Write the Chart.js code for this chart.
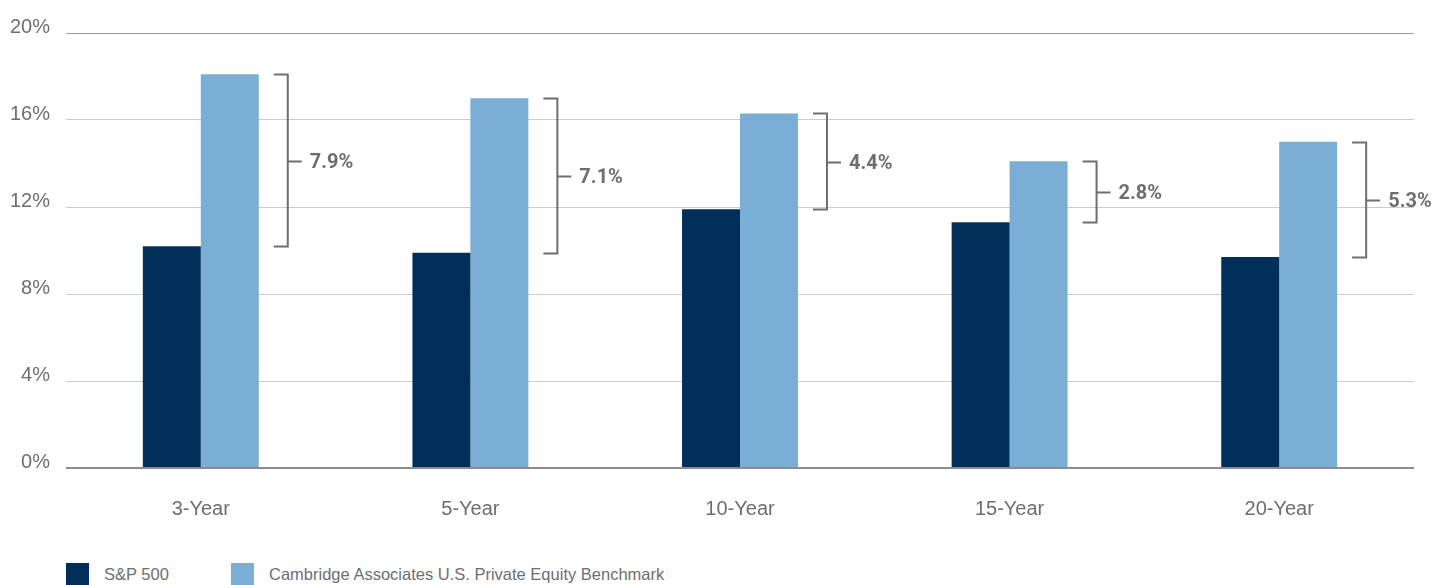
<!DOCTYPE html>
<html><head><meta charset="utf-8">
<script src="https://cdn.jsdelivr.net/npm/chart.js@4/dist/chart.umd.min.js"></script>
<style>
html,body{margin:0;padding:0;background:#fff;overflow:hidden;}
#wrap{position:relative;width:1437px;height:585px;overflow:hidden;}
#c{position:absolute;left:0;top:0;}
#legend{position:absolute;left:66px;top:563px;display:flex;font-family:"Liberation Sans",Arial,sans-serif;font-size:16.5px;color:#6d6e71;line-height:23px;}
#legend .item{display:flex;align-items:flex-start;}
#legend .box{width:23px;height:23px;margin-right:15px;}
</style></head>
<body>
<div id="wrap">
<canvas id="c" width="1437" height="550"></canvas>
<div id="legend"></div>
</div>
<script>
const categories = ["3-Year","5-Year","10-Year","15-Year","20-Year"];
const seriesNames = ["S&P 500","Cambridge Associates U.S. Private Equity Benchmark"];
const sp500 = [10.2, 9.9, 11.9, 11.3, 9.7];
const cambridge = [18.1, 17.0, 16.3, 14.1, 15.0];
const yTicks = [0, 4, 8, 12, 16, 20];
const colors = ["#00305a", "#7aaed4"];

const TXT = "#6d6e71";
const FONT = '"Liberation Sans",Arial,sans-serif';

// HTML legend
const lg = document.getElementById('legend');
seriesNames.forEach((n, i) => {
  const it = document.createElement('div'); it.className = 'item';
  const b = document.createElement('div'); b.className = 'box'; b.style.background = colors[i];
  const t = document.createElement('span'); t.textContent = n;
  it.appendChild(b); it.appendChild(t);
  if (i === 0) it.style.width = '165px';
  lg.appendChild(it);
});

const bracketPlugin = {
  id: 'brackets',
  afterDatasetsDraw(chart) {
    const ctx = chart.ctx;
    const y = chart.scales.y;
    const m1 = chart.getDatasetMeta(1).data;
    ctx.save();
    ctx.strokeStyle = TXT;
    ctx.lineWidth = 2;
    ctx.fillStyle = TXT;
    ctx.font = 'bold 20px Roboto, "Liberation Sans", sans-serif';
    ctx.textBaseline = 'middle';
    ctx.textAlign = 'left';
    categories.forEach((c, i) => {
      const a = sp500[i], b = cambridge[i];
      const R = m1[i].x + m1[i].width / 2;
      const yt = Math.round(y.getPixelForValue(Math.max(a, b))) + 0.5;
      const yb = Math.round(y.getPixelForValue(Math.min(a, b))) + 0.5;
      const x0 = R + 15, xv = R + 29, xm = R + 43;
      const ym = Math.round((yt + yb) / 2) + 0.5;
      ctx.beginPath();
      ctx.moveTo(x0, yt); ctx.lineTo(xv, yt); ctx.lineTo(xv, yb); ctx.lineTo(x0, yb);
      ctx.moveTo(xv, ym); ctx.lineTo(xm, ym);
      ctx.stroke();
      ctx.fillText((b - a).toFixed(1) + '%', R + 51, ym + 1);
    });
    ctx.restore();
  }
};

new Chart(document.getElementById('c'), {
  type: 'bar',
  data: {
    labels: categories,
    datasets: [
      { label: seriesNames[0], data: sp500, backgroundColor: colors[0], barPercentage: 1, categoryPercentage: 0.43 },
      { label: seriesNames[1], data: cambridge, backgroundColor: colors[1], barPercentage: 1, categoryPercentage: 0.43 }
    ]
  },
  options: {
    responsive: false,
    animation: false,
    layout: { padding: { top: 33, right: 23, left: 0, bottom: 0 } },
    plugins: { legend: { display: false }, tooltip: { enabled: false } },
    scales: {
      x: {
        grid: { display: false },
        border: { display: false },
        ticks: { color: TXT, font: { family: FONT, size: 20 }, padding: 21 },
        afterFit(s) { s.height = 82; }
      },
      y: {
        min: 0, max: 20,
        afterBuildTicks(s) { s.ticks = yTicks.map(v => ({ value: v })); },
        grid: {
          drawTicks: false,
          color: (c) => c.tick && c.tick.value === 0 ? '#8c8c90' : (c.tick && c.tick.value === 20 ? '#9c9c9c' : '#cccccc'),
          lineWidth: (c) => c.tick && c.tick.value === 0 ? 2 : 1
        },
        border: { display: false },
        ticks: { color: TXT, font: { family: FONT, size: 20 }, padding: 16, labelOffset: -6, callback: v => v + '%' },
        afterFit(s) { s.width = 66; }
      }
    }
  },
  plugins: [bracketPlugin]
});
</script>
</body></html>
